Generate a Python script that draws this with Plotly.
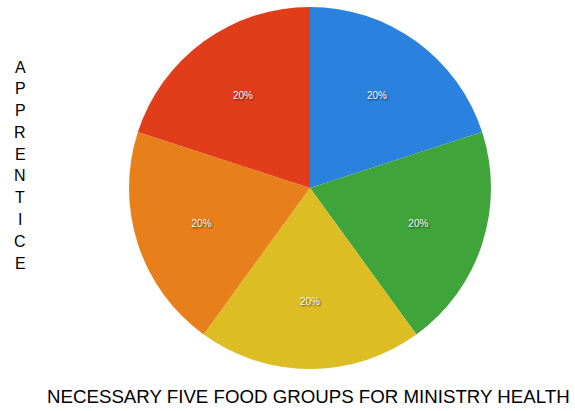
import plotly.graph_objects as go

labels = ["Group 1", "Group 2", "Group 3", "Group 4", "Group 5"]
values = [20, 20, 20, 20, 20]
colors = ["#2a82de", "#3fa53a", "#dcbd24", "#e7801b", "#e23d1b"]
y_title_letters = list("APPRENTICE")
x_title = "NECESSARY FIVE FOOD GROUPS FOR MINISTRY HEALTH"

W, H = 575, 411
fig = go.Figure(go.Pie(
    labels=labels, values=values, sort=False, direction="clockwise", rotation=0,
    marker=dict(colors=colors, line=dict(width=0)),
    textinfo="percent", textposition="inside", insidetextorientation="horizontal",
    textfont=dict(family="Liberation Sans, Arial", size=10, color="white", shadow="1px 1px 2px rgba(0,0,0,0.7)"),
    hoverinfo="label+percent", showlegend=False,
    domain=dict(x=[126 / W, 494 / W], y=[1 - 369 / H, 1 - 7 / H]),
))

annotations = []
for i, ch in enumerate(y_title_letters):
    annotations.append(dict(
        text=ch, x=20 / W, y=1 - (67 + i * 21.8) / H, xref="paper", yref="paper",
        xanchor="center", yanchor="middle", showarrow=False,
        font=dict(family="Liberation Sans, Arial", size=16, color="black"),
    ))
annotations.append(dict(
    text=x_title, x=308.5 / W, y=1 - 396 / H, xref="paper", yref="paper",
    xanchor="center", yanchor="middle", showarrow=False,
    font=dict(family="Liberation Sans, Arial", size=18.7, color="black"),
))

fig.update_layout(
    width=W, height=H, margin=dict(l=0, r=0, t=0, b=0),
    paper_bgcolor="white", plot_bgcolor="white",
    annotations=annotations,
)
fig.write_html("out.html")
